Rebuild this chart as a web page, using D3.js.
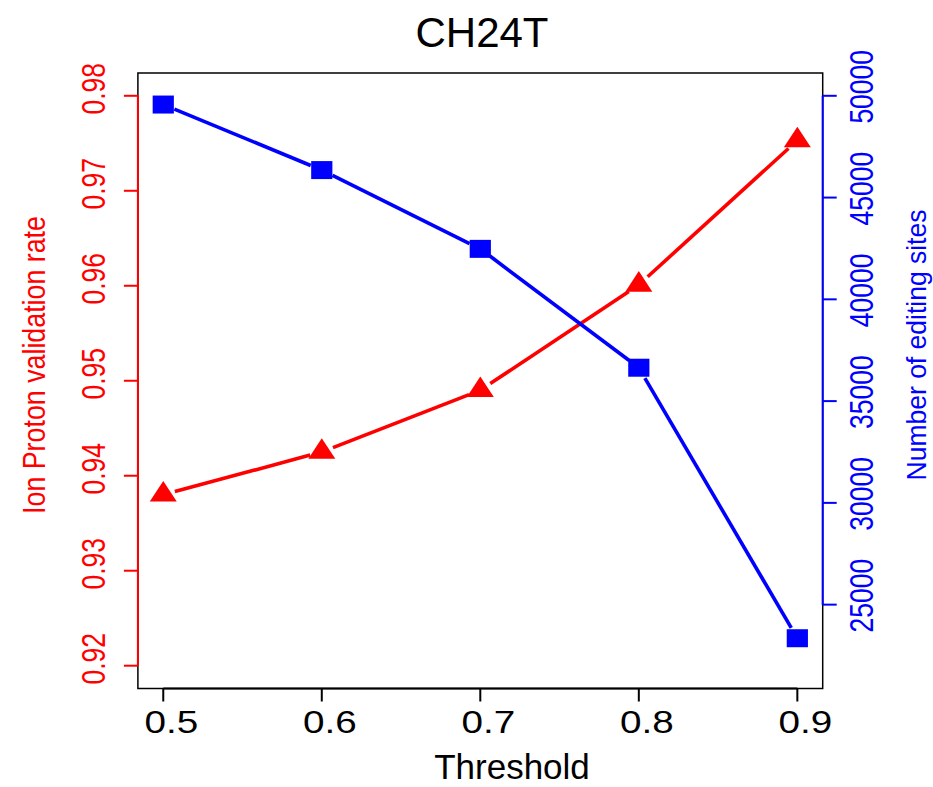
<!DOCTYPE html>
<html>
<head>
<meta charset="utf-8">
<script src="https://cdn.jsdelivr.net/npm/d3@7"></script>
<style>
  body { margin: 0; background: #fff; }
  svg { display: block; }
  text { font-family: "Liberation Sans", Arial, Helvetica, sans-serif; }
</style>
</head>
<body>
<svg width="933" height="787"></svg>
<script>
const thresholds = [0.5, 0.6, 0.7, 0.8, 0.9]
const validationRate = [0.938, 0.9425, 0.949, 0.9601, 0.9753]
const editingSites = [49570, 46350, 42480, 36640, 23350]

const xTicks = [0.5, 0.6, 0.7, 0.8, 0.9]
const leftTicks = [0.92, 0.93, 0.94, 0.95, 0.96, 0.97, 0.98]
const rightTicks = [25000, 30000, 35000, 40000, 45000, 50000]

const titleText = "CH24T"
const xTitle = "Threshold"
const leftTitle = "Ion Proton validation rate"
const rightTitle = "Number of editing sites"

const svg = d3.select("svg")

// R style: limits padded by 4%
const pad = (lo, hi) => {
  const e = (hi - lo) * 0.04
  return [lo - e, hi + e]
}

const plot = { left: 137.9, right: 822.7, top: 73, bottom: 688.5 }

const xScale = d3.scaleLinear()
  .domain(pad(0.5, 0.9))
  .range([plot.left, plot.right])

const leftScale = d3.scaleLinear()
  .domain(pad(0.92, 0.98))
  .range([plot.bottom, plot.top])

const rightScale = d3.scaleLinear()
  .domain(pad(22000, 50000))
  .range([plot.bottom, plot.top])

svg.append("rect")
  .attr("width", 933)
  .attr("height", 787)
  .attr("fill", "#fff")

// box
svg.append("rect")
  .attr("x", plot.left)
  .attr("y", plot.top)
  .attr("width", plot.right - plot.left)
  .attr("height", plot.bottom - plot.top)
  .attr("fill", "none")
  .attr("stroke", "#000")
  .attr("stroke-width", 1.5)

// bottom axis
svg.append("line")
  .attr("x1", xScale(xTicks[0]))
  .attr("x2", xScale(xTicks[xTicks.length - 1]))
  .attr("y1", plot.bottom)
  .attr("y2", plot.bottom)
  .attr("stroke", "#000")
  .attr("stroke-width", 2)

svg.selectAll("line.xtick")
  .data(xTicks)
  .enter().append("line")
  .attr("class", "xtick")
  .attr("x1", d => xScale(d))
  .attr("x2", d => xScale(d))
  .attr("y1", plot.bottom)
  .attr("y2", plot.bottom + 13)
  .attr("stroke", "#000")
  .attr("stroke-width", 2)

svg.selectAll("text.xtick")
  .data(xTicks)
  .enter().append("text")
  .attr("class", "xtick")
  .attr("transform", d => `translate(${xScale(d) + 8}, 732.7) scale(1.22, 1)`)
  .attr("text-anchor", "middle")
  .attr("font-size", 31.7)
  .attr("fill", "#000")
  .text(d => d.toFixed(1))

// left axis (red)
svg.append("line")
  .attr("x1", plot.left)
  .attr("x2", plot.left)
  .attr("y1", leftScale(leftTicks[0]))
  .attr("y2", leftScale(leftTicks[leftTicks.length - 1]))
  .attr("stroke", "#f00")
  .attr("stroke-width", 2)

svg.selectAll("line.ltick")
  .data(leftTicks)
  .enter().append("line")
  .attr("class", "ltick")
  .attr("x1", plot.left)
  .attr("x2", plot.left - 14)
  .attr("y1", d => leftScale(d))
  .attr("y2", d => leftScale(d))
  .attr("stroke", "#f00")
  .attr("stroke-width", 2)

svg.selectAll("text.ltick")
  .data(leftTicks)
  .enter().append("text")
  .attr("class", "ltick")
  .attr("transform", d => `translate(105, ${leftScale(d) - 7}) rotate(-90) scale(1, 1.28)`)
  .attr("text-anchor", "middle")
  .attr("font-size", 26.5)
  .attr("fill", "#f00")
  .text(d => d.toFixed(2))

// right axis (blue)
svg.append("line")
  .attr("x1", plot.right)
  .attr("x2", plot.right)
  .attr("y1", rightScale(rightTicks[0]))
  .attr("y2", rightScale(rightTicks[rightTicks.length - 1]))
  .attr("stroke", "#00f")
  .attr("stroke-width", 2)

svg.selectAll("line.rtick")
  .data(rightTicks)
  .enter().append("line")
  .attr("class", "rtick")
  .attr("x1", plot.right)
  .attr("x2", plot.right + 14)
  .attr("y1", d => rightScale(d))
  .attr("y2", d => rightScale(d))
  .attr("stroke", "#00f")
  .attr("stroke-width", 2)

svg.selectAll("text.rtick")
  .data(rightTicks)
  .enter().append("text")
  .attr("class", "rtick")
  .attr("transform", d => `translate(873.3, ${rightScale(d) - 9}) rotate(-90) scale(1, 1.28)`)
  .attr("text-anchor", "middle")
  .attr("font-size", 26.5)
  .attr("fill", "#00f")
  .text(d => d)

// titles
svg.append("text")
  .attr("x", 482)
  .attr("y", 47)
  .attr("text-anchor", "middle")
  .attr("font-size", 42)
  .attr("fill", "#000")
  .text(titleText)

svg.append("text")
  .attr("x", 512)
  .attr("y", 779)
  .attr("text-anchor", "middle")
  .attr("font-size", 35)
  .attr("fill", "#000")
  .text(xTitle)

svg.append("text")
  .attr("transform", "translate(44.5, 365) rotate(-90) scale(1, 1.15)")
  .attr("text-anchor", "middle")
  .attr("font-size", 26.8)
  .attr("fill", "#f00")
  .text(leftTitle)

svg.append("text")
  .attr("transform", "translate(926, 345) rotate(-90) scale(1, 1.05)")
  .attr("text-anchor", "middle")
  .attr("font-size", 26.5)
  .attr("fill", "#00f")
  .text(rightTitle)

// lines with gaps around points (type = "b")
const gap = 12
const segments = (pts) => {
  const out = []
  for (let i = 0; i < pts.length - 1; i++) {
    const [x0, y0] = pts[i]
    const [x1, y1] = pts[i + 1]
    const len = Math.hypot(x1 - x0, y1 - y0)
    const ux = (x1 - x0) / len
    const uy = (y1 - y0) / len
    out.push([x0 + ux * gap, y0 + uy * gap, x1 - ux * gap, y1 - uy * gap])
  }
  return out
}

const redPts = thresholds.map((t, i) => [xScale(t), leftScale(validationRate[i])])
const bluePts = thresholds.map((t, i) => [xScale(t), rightScale(editingSites[i])])

svg.selectAll("line.red")
  .data(segments(redPts))
  .enter().append("line")
  .attr("class", "red")
  .attr("x1", d => d[0])
  .attr("y1", d => d[1])
  .attr("x2", d => d[2])
  .attr("y2", d => d[3])
  .attr("stroke", "#f00")
  .attr("stroke-width", 3.6)

svg.selectAll("line.blue")
  .data(segments(bluePts))
  .enter().append("line")
  .attr("class", "blue")
  .attr("x1", d => d[0])
  .attr("y1", d => d[1])
  .attr("x2", d => d[2])
  .attr("y2", d => d[3])
  .attr("stroke", "#00f")
  .attr("stroke-width", 3.6)

// triangles (pch 17)
const triR = 13.7
const triHalfW = 13.5
svg.selectAll("path.tri")
  .data(redPts)
  .enter().append("path")
  .attr("class", "tri")
  .attr("d", d => `M${d[0]},${d[1] - triR} L${d[0] + triHalfW},${d[1] + triR / 2} L${d[0] - triHalfW},${d[1] + triR / 2} Z`)
  .attr("fill", "#f00")

// squares (pch 15)
svg.selectAll("rect.sq")
  .data(bluePts)
  .enter().append("rect")
  .attr("class", "sq")
  .attr("x", d => d[0] - 10.6)
  .attr("y", d => d[1] - 9)
  .attr("width", 21.2)
  .attr("height", 18)
  .attr("fill", "#00f")
</script>
</body>
</html>
